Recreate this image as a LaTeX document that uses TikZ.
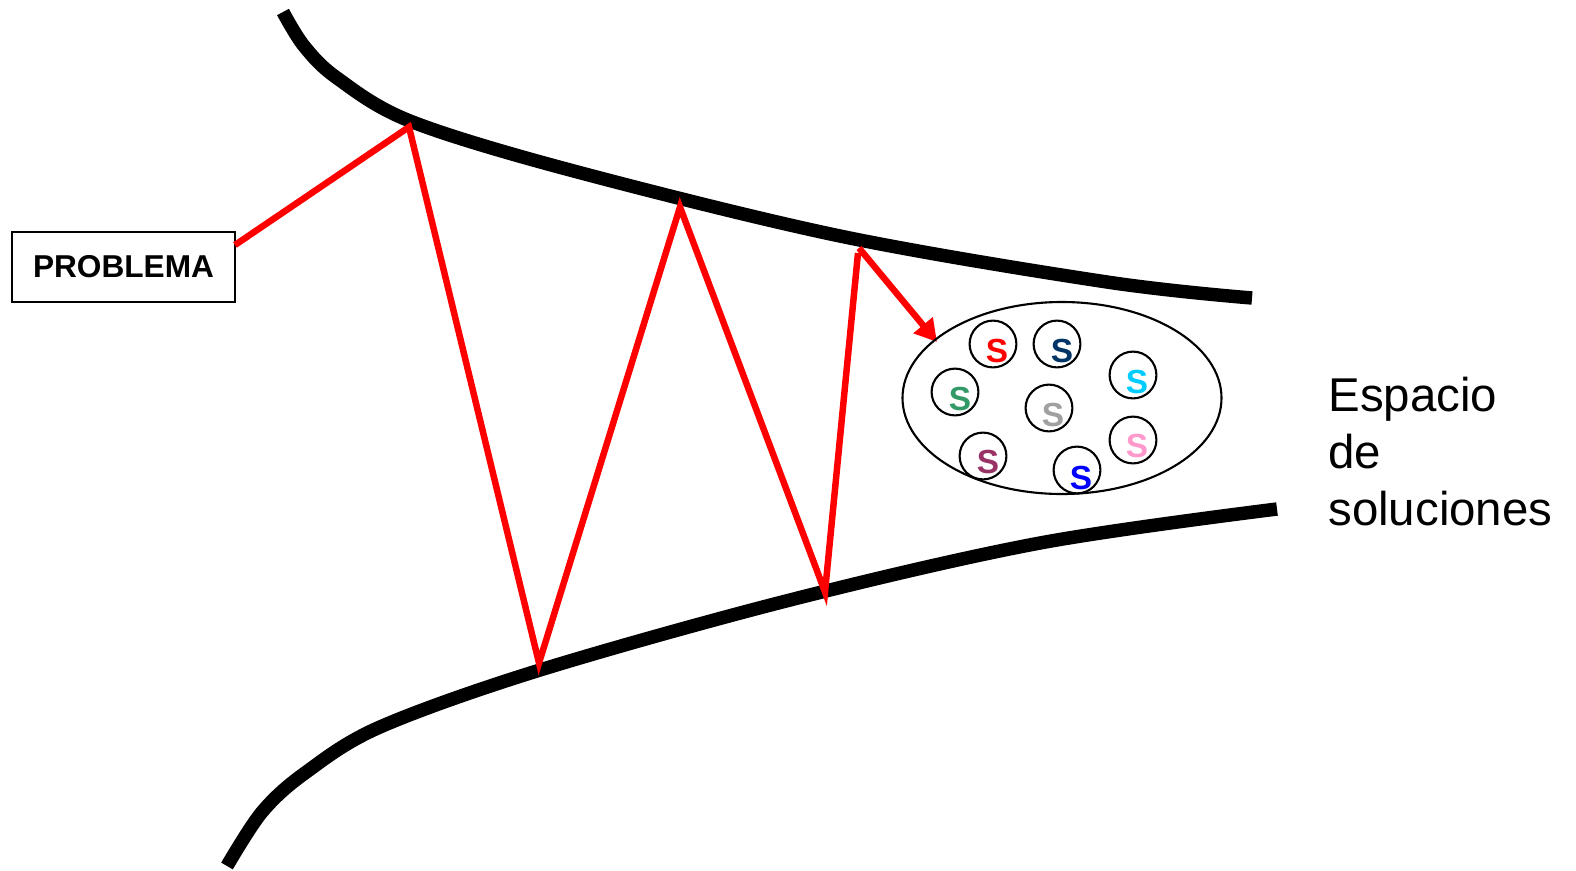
\documentclass[tikz,border=0pt]{standalone}
\usepackage{fontspec}
\setmainfont{Liberation Sans}
\usetikzlibrary{arrows.meta}
\begin{document}
\begin{tikzpicture}[x=0.02cm,y=-0.02cm,
  wall/.style={line width=13.5*0.5669pt},
  zig/.style={draw=red,line width=6.5*0.5669pt,line join=miter},
  sol/.style={circle,draw,line width=1.2pt,minimum size=47*0.5669pt,inner sep=0pt},
  stxt/.style={font=\fontsize{19}{20}\selectfont\bfseries,inner sep=0pt}]
\useasboundingbox (0,0) rectangle (1576,870);
% walls
\draw[wall] plot[smooth,tension=0.55] coordinates {(283,12) (304,46) (337,78) (410,121)
  (570,170) (840,236) (1107,282) (1252,298)};
\draw[wall] plot[smooth,tension=0.55] coordinates {(227,866) (262,812) (305,773) (380,727)
  (540,670) (790,600) (1040,543) (1277,509)};
% problema box
\node[draw,line width=1.2pt,minimum width=223*0.5669pt,minimum height=70*0.5669pt,inner sep=0pt,
  font=\fontsize{18}{20}\selectfont\bfseries] (prob) at (123.5,267) {PROBLEMA};
% zigzag vertices
\coordinate (v0) at (235,245);
\coordinate (v1) at (409,127);
\coordinate (v2) at (539,663);
\coordinate (v3) at (680,207);
\coordinate (v4) at (825,592);
\coordinate (v5) at (858,253);
\coordinate (a0) at (859,248);
\coordinate (tip) at (937,342);
\draw[zig] (v0) -- (v1) -- (v2) -- (v3) -- (v4) -- (v5);
\draw[zig,-{Triangle[length=22*0.5669pt,width=24*0.5669pt]}] (a0) -- (tip);
% ellipse
\draw[line width=1.2pt] (1062,398) ellipse [x radius=159.5,y radius=96];
% solutions
\node[sol] (c1) at (993,344) {}; \node[stxt,text=red] at (997,351) {S};
\node[sol] (c2) at (1057,344) {}; \node[stxt,text={rgb,255:red,0;green,51;blue,102}] at (1062,351) {S};
\node[sol] (c3) at (1133,375) {}; \node[stxt,text={rgb,255:red,0;green,204;blue,255}] at (1137,382) {S};
\node[sol] (c4) at (955,392) {}; \node[stxt,text={rgb,255:red,51;green,153;blue,102}] at (960,399) {S};
\node[sol] (c5) at (1049,408) {}; \node[stxt,text={rgb,255:red,160;green,160;blue,160}] at (1053,415) {S};
\node[sol] (c6) at (1133,440) {}; \node[stxt,text={rgb,255:red,255;green,153;blue,204}] at (1137,446) {S};
\node[sol] (c7) at (983,456) {}; \node[stxt,text={rgb,255:red,153;green,51;blue,102}] at (988,462) {S};
\node[sol] (c8) at (1077,470) {}; \node[stxt,text=blue] at (1081,478) {S};
% label
\node[anchor=north west,align=left,inner sep=0pt,font=\fontsize{27}{32.3}\selectfont] (esp) at (1328,377)
  {Espacio\\de\\soluciones};
\end{tikzpicture}
\end{document}
